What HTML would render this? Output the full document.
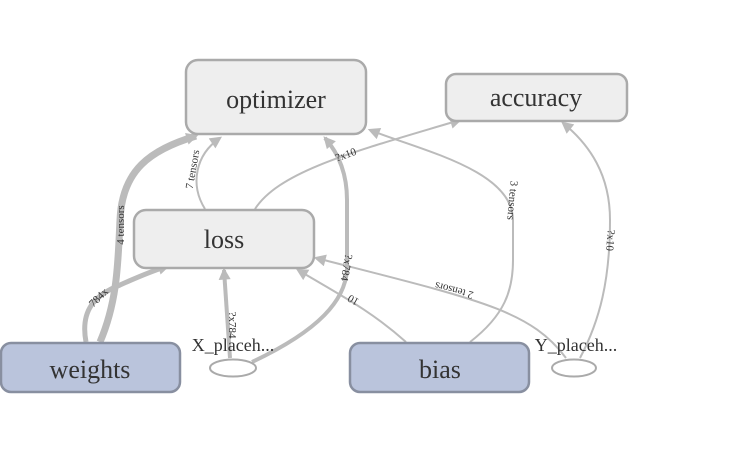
<!DOCTYPE html>
<html><head><style>
body{margin:0;background:#fff;}
svg text{font-family:"Liberation Serif",serif;fill:#333;}
</style></head><body>
<svg width="747" height="453" viewBox="0 0 747 453">
<defs>
<marker id="b" viewBox="0 0 10 10" refX="8" refY="5" markerWidth="15" markerHeight="12" orient="auto" markerUnits="userSpaceOnUse"><path d="M0,0L10,5L0,10z" fill="#bbb"/></marker>
</defs>
<g fill="none" stroke="#bbb">
<path d="M100,342 C118,300 118,260 120,220 C122,170 150,150 196,136" stroke-width="7" marker-end="url(#b)"/>
<path d="M86,342 C80,310 95,295 120,285 C140,276 155,270 168,266" stroke-width="5" marker-end="url(#b)"/>
<path d="M205,209 C190,185 195,155 220,138" stroke-width="2" marker-end="url(#b)"/>
<path d="M255,209 C280,170 360,150 460,120" stroke-width="2" marker-end="url(#b)"/>
<path d="M230,358 L224,270" stroke-width="4" marker-end="url(#b)"/>
<path d="M252,362 C320,330 345,300 347,270 L347,200 C347,175 340,155 325,138" stroke-width="4" marker-end="url(#b)"/>
<path d="M406,342 C370,310 340,295 298,270" stroke-width="2" marker-end="url(#b)"/>
<path d="M470,342 C505,315 513,290 513,260 L513,220 C513,170 420,150 370,130" stroke-width="2" marker-end="url(#b)"/>
<path d="M566,358 C530,310 480,300 316,258" stroke-width="2" marker-end="url(#b)"/>
<path d="M580,358 C600,320 610,280 610,220 C610,175 590,145 563,123" stroke-width="2" marker-end="url(#b)"/>
</g>
<g font-size="11">
<text transform="translate(124,225) rotate(-90)" text-anchor="middle">4 tensors</text>
<text transform="translate(101,300) rotate(-45)" text-anchor="middle">784x</text>
<text transform="translate(196,170) rotate(-80)" text-anchor="middle">7 tensors</text>
<text transform="translate(347,158) rotate(-20)" text-anchor="middle">?x10</text>
<text transform="translate(229,325) rotate(90)" text-anchor="middle">?x784</text>
<text transform="translate(343,267) rotate(100)" text-anchor="middle">?x784</text>
<text transform="translate(355,297) rotate(210)" text-anchor="middle">10</text>
<text transform="translate(509,200) rotate(95)" text-anchor="middle">3 tensors</text>
<text transform="translate(455,287) rotate(195)" text-anchor="middle">2 tensors</text>
<text transform="translate(607,240) rotate(95)" text-anchor="middle">?x10</text>
</g>
<g stroke-width="2.5">
<rect x="186" y="60" width="180" height="74" rx="12" fill="#eee" stroke="#aaa"/>
<rect x="446" y="74" width="181" height="47" rx="10" fill="#eee" stroke="#aaa"/>
<rect x="134" y="210" width="180" height="58" rx="12" fill="#eee" stroke="#aaa"/>
<rect x="1" y="343" width="179" height="49" rx="10" fill="#bac4dc" stroke="#888fa0"/>
<rect x="350" y="343" width="179" height="49" rx="10" fill="#bac4dc" stroke="#888fa0"/>
</g>
<ellipse cx="233" cy="368" rx="23" ry="8.5" fill="#fff" stroke="#aaa" stroke-width="2"/>
<ellipse cx="574" cy="368" rx="22" ry="8.5" fill="#fff" stroke="#aaa" stroke-width="2"/>
<g font-size="26" text-anchor="middle">
<text x="276" y="108">optimizer</text>
<text x="536" y="106">accuracy</text>
<text x="224" y="248">loss</text>
<text x="90" y="378">weights</text>
<text x="440" y="378">bias</text>
</g>
<g font-size="18" text-anchor="middle">
<text x="233" y="351">X_placeh...</text>
<text x="576" y="351">Y_placeh...</text>
</g>
</svg>
</body></html>
